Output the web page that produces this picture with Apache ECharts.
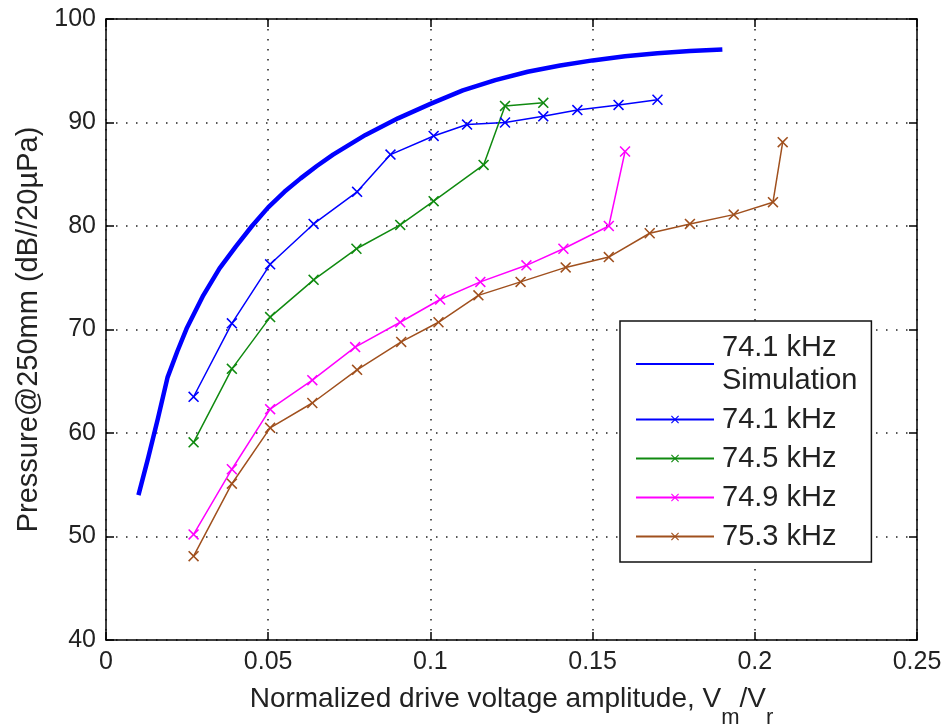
<!DOCTYPE html>
<html>
<head>
<meta charset="utf-8">
<script src="https://cdn.jsdelivr.net/npm/echarts@6/dist/echarts.min.js"></script>
<style>
  html, body { margin: 0; padding: 0; background: #fff; }
  #chart { width: 945px; height: 728px; }
</style>
</head>
<body>
<div id="chart"></div>
<script>
// Axis ticks
const xTicks = [0, 0.05, 0.1, 0.15, 0.2, 0.25];
const yTicks = [40, 50, 60, 70, 80, 90, 100];

// 74.1 kHz simulation
const simX = [0.010, 0.013, 0.016, 0.019, 0.022, 0.025, 0.030, 0.035, 0.040, 0.045, 0.050, 0.055, 0.060, 0.065, 0.070, 0.080, 0.090, 0.100, 0.110, 0.120, 0.130, 0.140, 0.150, 0.160, 0.170, 0.180, 0.190];
const simY = [54.0, 57.6, 61.4, 65.4, 67.9, 70.2, 73.3, 75.9, 78.0, 80.0, 81.8, 83.3, 84.6, 85.8, 86.9, 88.8, 90.4, 91.8, 93.1, 94.1, 94.9, 95.5, 96.0, 96.4, 96.7, 96.9, 97.05];

// Measured, 74.1 kHz
const m741X = [0.027, 0.0388, 0.0506, 0.064, 0.0774, 0.0877, 0.101, 0.1113, 0.123, 0.1348, 0.1453, 0.158, 0.170];
const m741Y = [63.5, 70.6, 76.3, 80.2, 83.3, 86.9, 88.7, 89.8, 90.0, 90.6, 91.2, 91.7, 92.2];

// Measured, 74.5 kHz
const m745X = [0.027, 0.0388, 0.0506, 0.064, 0.0772, 0.0907, 0.101, 0.1164, 0.123, 0.1348];
const m745Y = [59.1, 66.2, 71.2, 74.8, 77.8, 80.1, 82.4, 85.9, 91.6, 91.9];

// Measured, 74.9 kHz
const m749X = [0.027, 0.0388, 0.0506, 0.0636, 0.0768, 0.0907, 0.103, 0.1154, 0.1296, 0.141, 0.155, 0.160];
const m749Y = [50.2, 56.5, 62.3, 65.1, 68.3, 70.7, 72.9, 74.6, 76.2, 77.8, 80.0, 87.2];

// Measured, 75.3 kHz
const m753X = [0.027, 0.0388, 0.0506, 0.0636, 0.0774, 0.091, 0.1025, 0.1148, 0.1278, 0.1417, 0.155, 0.1676, 0.180, 0.1935, 0.2056, 0.2086];
const m753Y = [48.1, 55.1, 60.5, 62.9, 66.1, 68.8, 70.7, 73.3, 74.6, 76.0, 77.0, 79.3, 80.2, 81.1, 82.3, 88.1];

const pair = (xs, ys) => xs.map((x, i) => [x, ys[i]]);

const crossMark = 'path://M0,1L1,0L5,4L9,0L10,1L6,5L10,9L9,10L5,6L1,10L0,9L4,5Z';
const font = "'Liberation Sans', Arial, sans-serif";

function measured(name, xs, ys, color) {
  return {
    name: name,
    type: 'line',
    data: pair(xs, ys),
    symbol: crossMark,
    symbolSize: 11,
    showSymbol: true,
    lineStyle: { color: color, width: 1.5 },
    itemStyle: { color: color }
  };
}

const chart = echarts.init(document.getElementById('chart'), null, { renderer: 'canvas' });

const axisLineStyle = { color: '#000', width: 1.5 };
const dotted = { color: '#222', width: 1.5, type: [1.5, 8.5] };

chart.setOption({
  backgroundColor: '#fff',
  animation: false,
  grid: { left: 106, right: 28, top: 19, bottom: 88, containLabel: false, outerBoundsMode: 'none' },
  xAxis: [
    {
      type: 'value',
      min: xTicks[0], max: xTicks[xTicks.length - 1], interval: xTicks[1] - xTicks[0],
      position: 'bottom',
      axisLine: { show: true, onZero: false, lineStyle: axisLineStyle },
      axisTick: { show: true, inside: true, length: 8, lineStyle: axisLineStyle },
      axisLabel: { color: '#222', fontFamily: font, fontSize: 25, margin: 10,
        formatter: v => String(parseFloat(v.toFixed(2))) },
      splitLine: { show: true, lineStyle: dotted },
      name: '{n|Normalized drive voltage amplitude, V}{s|m}{n|/V}{s|r}',
      nameLocation: 'middle',
      nameGap: 45,
      nameTextStyle: {
        rich: {
          n: { fontFamily: font, fontSize: 28, color: '#222', verticalAlign: 'top', lineHeight: 30 },
          s: { fontFamily: font, fontSize: 22, color: '#222', verticalAlign: 'bottom', lineHeight: 44 }
        }
      }
    },
    {
      type: 'value',
      min: xTicks[0], max: xTicks[xTicks.length - 1], interval: xTicks[1] - xTicks[0],
      position: 'top',
      axisLine: { show: true, onZero: false, lineStyle: axisLineStyle },
      axisTick: { show: true, inside: true, length: 8, lineStyle: axisLineStyle },
      axisLabel: { show: false },
      splitLine: { show: false }
    }
  ],
  yAxis: [
    {
      type: 'value',
      min: yTicks[0], max: yTicks[yTicks.length - 1], interval: yTicks[1] - yTicks[0],
      position: 'left',
      axisLine: { show: true, onZero: false, lineStyle: axisLineStyle },
      axisTick: { show: true, inside: true, length: 8, lineStyle: axisLineStyle },
      axisLabel: { color: '#222', fontFamily: font, fontSize: 25, margin: 10 },
      splitLine: { show: true, lineStyle: dotted },
      name: 'Pressure@250mm (dB//20\u00b5Pa)',
      nameLocation: 'middle',
      nameRotate: 90,
      nameGap: 52,
      nameTextStyle: { fontFamily: font, fontSize: 29, color: '#222' }
    },
    {
      type: 'value',
      min: yTicks[0], max: yTicks[yTicks.length - 1], interval: yTicks[1] - yTicks[0],
      position: 'right',
      axisLine: { show: true, onZero: false, lineStyle: axisLineStyle },
      axisTick: { show: true, inside: true, length: 8, lineStyle: axisLineStyle },
      axisLabel: { show: false },
      splitLine: { show: false }
    }
  ],
  legend: {
    orient: 'vertical',
    left: 620,
    top: 321,
    padding: [10, 14, 9, 15],
    itemGap: 6,
    itemWidth: 78,
    itemHeight: 10,
    backgroundColor: '#fff',
    borderColor: '#111',
    borderWidth: 1.5,
    textStyle: { fontFamily: font, fontSize: 29, color: '#222', lineHeight: 33, padding: [0, 0, 0, 3] },
    data: [
      { name: '74.1 kHz\nSimulation', itemStyle: { opacity: 0 } },
      '74.1 kHz', '74.5 kHz', '74.9 kHz', '75.3 kHz'
    ]
  },
  series: [
    {
      name: '74.1 kHz\nSimulation',
      type: 'line',
      data: pair(simX, simY),
      symbol: 'none',
      smooth: false,
      lineStyle: { color: '#0000ff', width: 4.5, join: 'round' },
      itemStyle: { color: '#0000ff' },
      z: 3
    },
    measured('74.1 kHz', m741X, m741Y, '#0000ff'),
    measured('74.5 kHz', m745X, m745Y, '#108a10'),
    measured('74.9 kHz', m749X, m749Y, '#ff00ff'),
    measured('75.3 kHz', m753X, m753Y, '#a0501e')
  ]
});
</script>
</body>
</html>
